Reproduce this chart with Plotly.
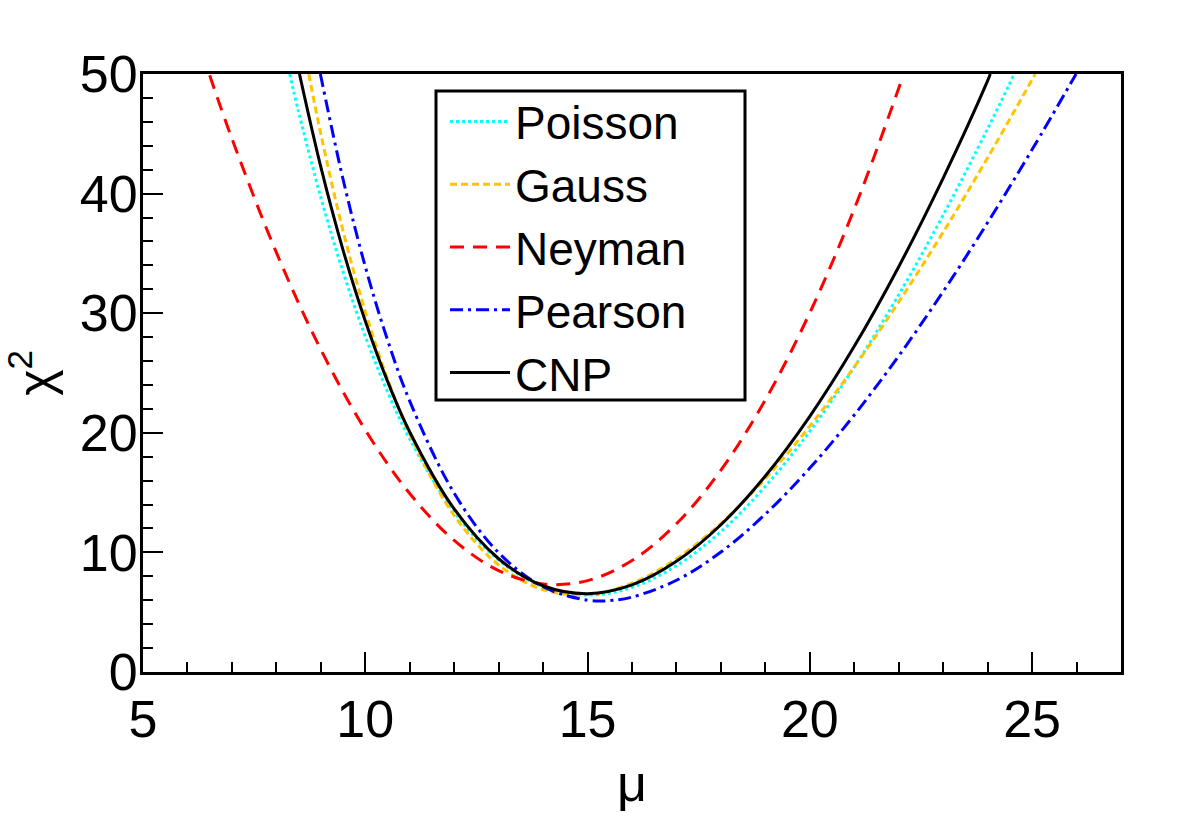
import plotly.graph_objects as go

# ---- data ----
mu_poisson = [8.3, 8.5, 9, 9.5, 10, 10.5, 11, 12, 13, 14, 15, 16, 17, 18, 19, 20, 21, 22, 23, 24, 24.6]
chi2_poisson = [50.0, 46.83, 39.68, 33.46, 28.07, 23.44, 19.48, 13.38, 9.36, 7.13, 6.43, 7.07, 8.89, 11.74,
                15.52, 20.13, 25.49, 31.54, 38.20, 45.43, 50.0]

mu_gauss = [8.73, 9, 9.5, 10, 10.5, 11, 12, 13, 14, 15, 16, 17, 18, 19, 20, 21, 22, 23, 24, 25, 25.07]
chi2_gauss = [50.0, 44.99, 36.89, 30.13, 24.51, 19.88, 13.09, 8.95, 6.89, 6.48, 7.42, 9.47, 12.43, 16.17,
              20.56, 25.51, 30.94, 36.78, 43.0, 49.53, 50.0]

mu_neyman = [6.5, 7, 8, 9, 10, 11, 12, 13, 14, 15, 16, 17, 18, 19, 20, 21, 22, 22.08]
chi2_neyman = [49.89, 44.60, 35.08, 26.96, 20.24, 14.92, 11.00, 8.48, 7.36, 7.64, 9.32, 12.40, 16.88,
               22.76, 30.04, 38.72, 48.80, 49.67]

mu_pearson = [8.99, 9.5, 10, 10.5, 11, 12, 13, 14, 15, 15.5, 16, 17, 18, 19, 20, 21, 22, 23, 24, 25, 25.99]
chi2_pearson = [50.0, 41.2, 33.9, 27.77, 22.65, 14.95, 9.97, 7.13, 6.0, 5.97, 6.26, 7.67, 10.03, 13.2,
                17.05, 21.49, 26.43, 31.81, 37.58, 43.68, 50.0]

mu_cnp = [8.52, 9, 9.5, 10, 10.5, 11, 12, 13, 14, 15, 16, 17, 18, 19, 20, 21, 22, 23, 24, 24.06]
chi2_cnp = [50.0, 42.23, 35.28, 29.35, 24.32, 20.07, 13.63, 9.47, 7.21, 6.55, 7.28, 9.25, 12.31, 16.39,
            21.38, 27.23, 33.89, 41.3, 49.44, 50.0]

x_ticks = [5, 10, 15, 20, 25]
y_ticks = [0, 10, 20, 30, 40, 50]

FONT = "Liberation Sans, Arial, Helvetica, sans-serif"

series = [
    ("Poisson", mu_poisson, chi2_poisson, "#00FFFF", "3px,3px"),
    ("Gauss", mu_gauss, chi2_gauss, "#FFC400", "7px,4px"),
    ("Neyman", mu_neyman, chi2_neyman, "#FF0000", "14px,9px"),
    ("Pearson", mu_pearson, chi2_pearson, "#0000FF", "13px,5px,3px,5px"),
    ("CNP", mu_cnp, chi2_cnp, "#000000", "solid"),
]

fig = go.Figure()
for name, xs, ys, color, dash in series:
    fig.add_trace(go.Scatter(
        x=xs, y=ys, mode="lines", name=name,
        line=dict(color=color, width=3, dash=dash, shape="spline", smoothing=1.0),
        cliponaxis=True,
    ))

axis_common = dict(
    showline=True, linecolor="black", linewidth=3, mirror=True,
    ticks="inside", ticklen=20, tickwidth=2, tickcolor="black",
    showgrid=False, zeroline=False,
    tickfont=dict(family=FONT, size=52, color="black"),
)

fig.update_xaxes(
    range=[5, 27], tickvals=x_ticks, ticktext=[str(v) for v in x_ticks],
    minor=dict(dtick=1, tick0=5, ticks="inside", ticklen=10, tickwidth=2, tickcolor="black", showgrid=False),
    title=dict(text="μ", font=dict(family=FONT, size=52, color="black"), standoff=18),
    **axis_common,
)
fig.update_yaxes(
    range=[0, 50], tickvals=y_ticks, ticktext=[str(v) for v in y_ticks],
    minor=dict(dtick=2, tick0=0, ticks="inside", ticklen=10, tickwidth=2, tickcolor="black", showgrid=False),
    title=dict(text="χ<sup>2</sup>", font=dict(family=FONT, size=50, color="black"), standoff=22),
    ticklabelstandoff=-8,
    **axis_common,
)

# legend frame (ROOT-style box)
fig.add_shape(type="rect", xref="paper", yref="paper",
              x0=(436 - 143) / 978, x1=(745 - 143) / 978,
              y0=(672 - 400) / 598, y1=(672 - 91) / 598,
              line=dict(color="black", width=3), fillcolor="white", layer="below")

fig.update_layout(
    width=1182, height=821,
    margin=dict(l=143, r=61, t=74, b=149, autoexpand=False),
    paper_bgcolor="white", plot_bgcolor="rgba(0,0,0,0)",
    font=dict(family=FONT, color="black"),
    legend=dict(
        x=(445 - 143) / 978, y=(672 - 85) / 598, xanchor="left", yanchor="top",
        bgcolor="rgba(0,0,0,0)", borderwidth=0,
        font=dict(family=FONT, size=46, color="black"),
        itemwidth=60, tracegroupgap=0,
    ),
)

fig.write_html("out.html")
